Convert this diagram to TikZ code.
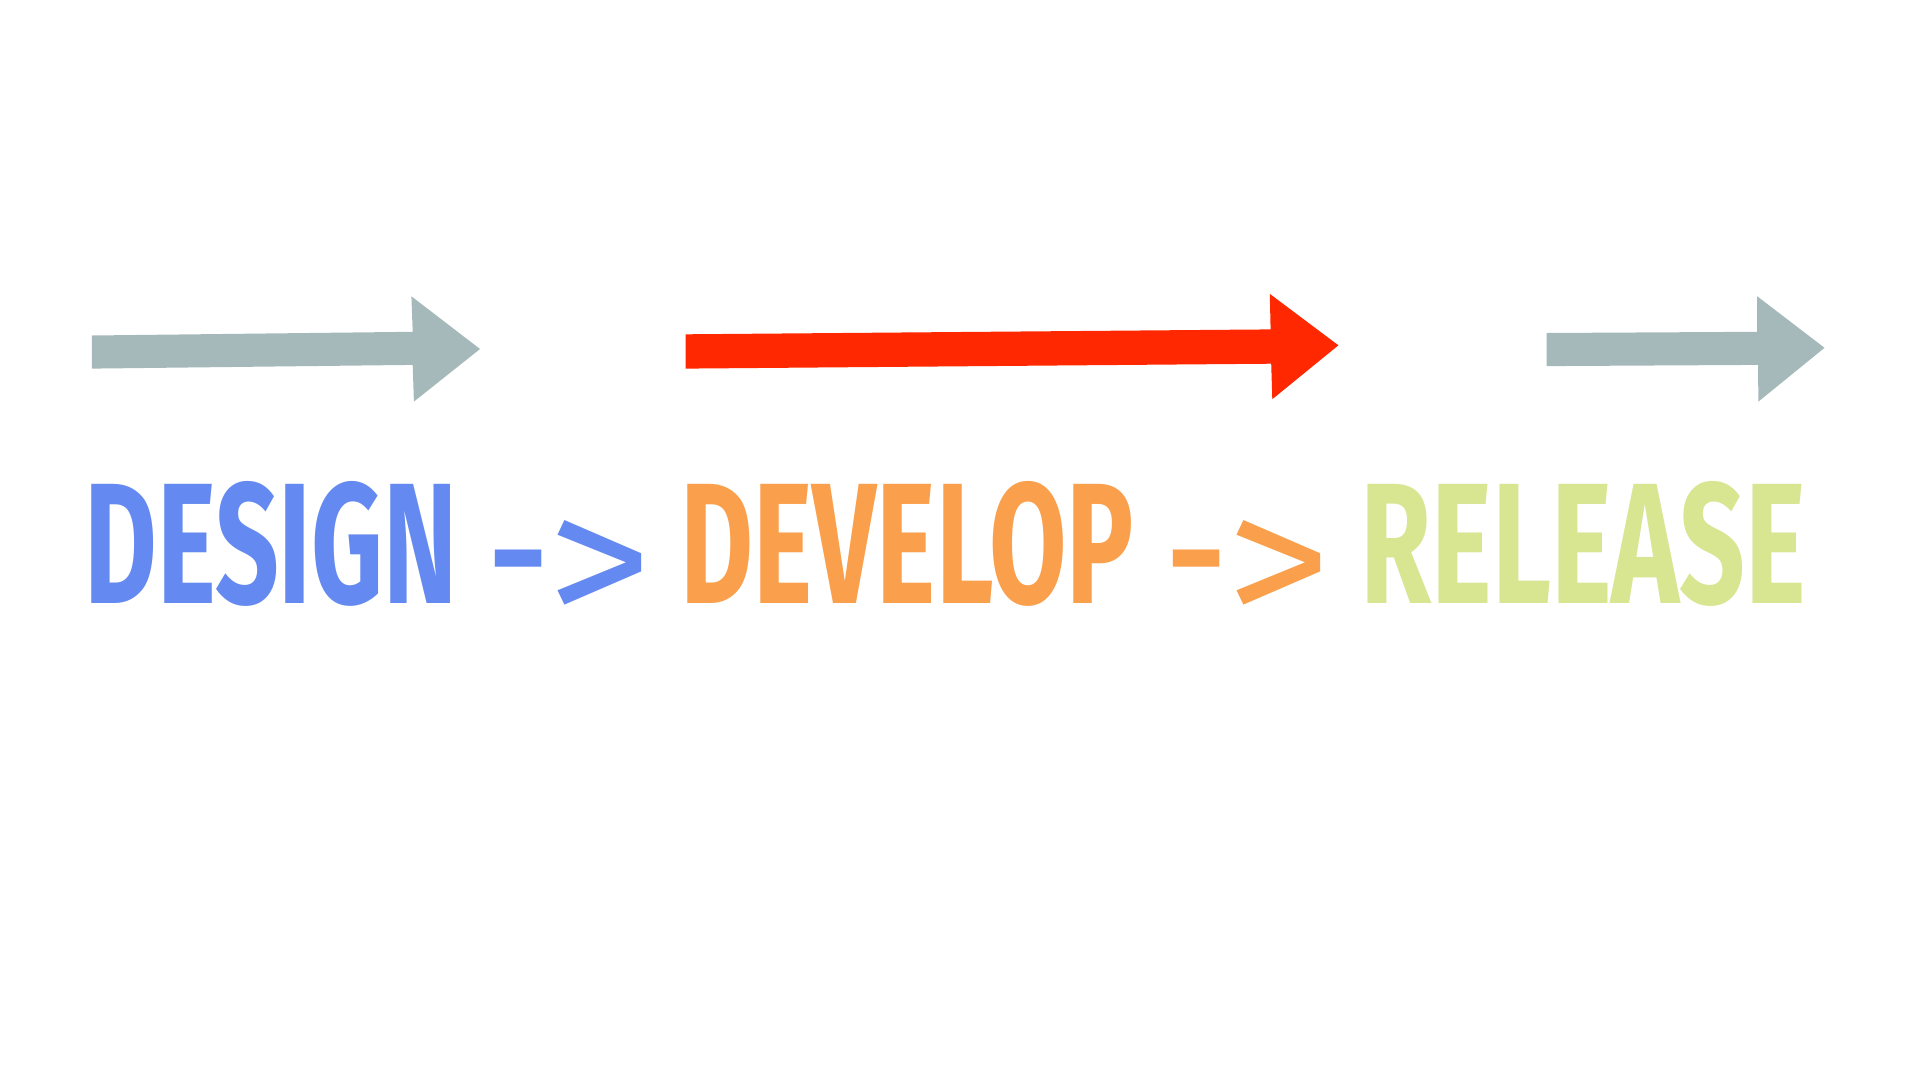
\documentclass[tikz,border=0pt]{standalone}
\usepackage{fontspec}
\setmainfont{Fira Sans}
\usepackage{graphicx}
\definecolor{dblue}{HTML}{6489F0}
\definecolor{dorange}{HTML}{FA9F4B}
\definecolor{dgreen}{HTML}{D8E591}
\definecolor{dgray}{HTML}{A6B9BA}
\definecolor{dred}{HTML}{FF2800}
\tikzset{
  word/.style={inner sep=0pt, outer sep=0pt, anchor=base west}
}
\newcommand{\fitword}[3]{\resizebox{#1pt}{#2pt}{\bfseries #3}}
\newcommand{\fitsym}[3]{\resizebox{#1pt}{#2pt}{#3}}
\begin{document}
\begin{tikzpicture}[x=1pt,y=-1pt]
\useasboundingbox[fill=white] (0,0) rectangle (1920,1080);
% gray arrow 1
\fill[dgray] (91.8,335.5) -- (412.7,331.8) -- (411.4,296.3) -- (480,349) -- (413.9,401.6) -- (412.7,364.9) -- (91.8,368.6) -- cycle;
% red arrow
\fill[dred] (685.7,334.3) -- (1270.6,329.4) -- (1269.8,293.9) -- (1338.4,345.3) -- (1272.3,399.2) -- (1271.2,363.7) -- (685.7,368.6) -- cycle;
% gray arrow 2
\fill[dgray] (1546.5,333) -- (1757.2,331.8) -- (1757.2,296.3) -- (1824.5,347.8) -- (1758.4,401.6) -- (1758,364.9) -- (1546.5,366.1) -- cycle;
% words
\node[word, text=dblue] (design) at (84.5,603.7) {\fitword{373}{122}{DESIGN}};
\node[word, text=dblue] (dash1) at (485.5,627.2) {\fitsym{66}{77.4}{-}};
\node[word, text=dblue] (gt1) at (547.6,627.5) {\fitsym{104.6}{107}{>}};
\node[word, text=dorange] (develop) at (680.8,603.7) {\fitword{453}{122}{DEVELOP}};
\node[word, text=dorange] (dash2) at (1163.5,627.2) {\fitsym{66}{77.4}{-}};
\node[word, text=dorange] (gt2) at (1226,627.5) {\fitsym{104.6}{107}{>}};
\node[word, text=dgreen] (release) at (1360.3,603.7) {\fitword{446}{122}{RELEASE}};
\end{tikzpicture}
\end{document}
